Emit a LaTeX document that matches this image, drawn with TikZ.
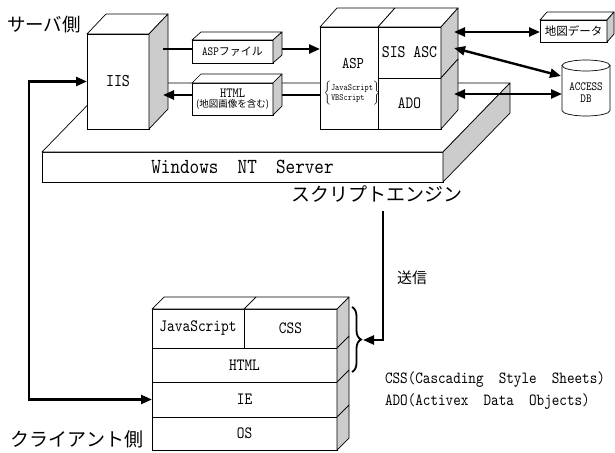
\documentclass[tikz,border=0pt]{standalone}
\usepackage{fontspec}
\newfontfamily\cjk{Noto Sans CJK JP}
\newfontfamily\hw[FakeStretch=0.85]{lmmono10-regular.otf}
\usetikzlibrary{arrows.meta,calc,decorations.pathreplacing}
\definecolor{sidegray}{gray}{0.8}
\newcommand\fs[1]{\fontsize{#1}{#1}\selectfont}
\newcommand\topface[3]{\draw[boxline,fill=white] (#1.north west) -- ($(#1.north west)+(#2,-#3)$) -- ($(#1.north east)+(#2,-#3)$) -- (#1.north east) -- cycle;}
\newcommand\sideface[3]{\draw[boxline,fill=sidegray] (#1.north east) -- ($(#1.north east)+(#2,-#3)$) -- ($(#1.south east)+(#2,-#3)$) -- (#1.south east) -- cycle;}
\tikzset{
  boxline/.style={line width=0.7pt, draw=black, line join=round},
  face/.style={draw, line width=0.7pt, fill=white, inner sep=0pt, outer sep=0pt, rectangle},
  txt/.style={inner sep=0pt, outer sep=0pt},
  bigarrow/.style={line width=2.4pt, line join=miter, -{Triangle[length=11pt,width=9pt]}},
  dblarrow/.style={line width=2.4pt, {Triangle[length=11pt,width=9pt]}-{Triangle[length=11pt,width=9pt]}}
}
\begin{document}
\begin{tikzpicture}[x=1pt,y=-1pt]
\useasboundingbox (0,0) rectangle (615,452);

% Windows NT Server platform
\node[face, minimum width=401, minimum height=30, font={\hw\fs{21.5}}] (nt) at (242.5,167) {Windows\ \ NT\ \ Server};
\topface{nt}{67}{69}
\sideface{nt}{67}{69}

% IIS
\node[face, minimum width=62, minimum height=95, font={\hw\fs{17.9}}] (iis) at (118,81.5) {IIS};
\topface{iis}{19}{20}
\sideface{iis}{19}{20}

% ASP block
\node[face, minimum width=58, minimum height=102] (asp) at (349,78) {};
\node[face, minimum width=63, minimum height=51, font={\hw\fs{17.7}}] (sis) at (409.5,52.5) {SIS ASC};
\node[face, minimum width=63, minimum height=51, font={\hw\fs{17.2}}] (ado) at (409.5,103.5) {ADO};
\topface{asp}{17}{19}
\topface{sis}{17}{19}
\sideface{sis}{17}{19}
\sideface{ado}{17}{19}
\node[txt, font={\hw\fs{16.4}}] (asplbl) at (353,63) {ASP};
\node[txt, font={\hw\fontsize{9.4}{10}\selectfont}] (aspscr) at (352,93) {$\left\{\begin{tabular}{@{}l@{}}JavaScript\\VBScript\end{tabular}\right\}$};

% IIS <-> ASP arrows
\coordinate (iisout) at (163,49);
\coordinate (iisin) at (163,95);
\draw[bigarrow] (iisout) -- (iisout -| asp.west);
\draw[bigarrow] (iisin -| asp.west) -- (iisin);

% small boxes on the arrows
\node[face, minimum width=81, minimum height=23] (aspfile) at (232.5,51.5) {{\hw\fs{12.5}ASP}{\cjk\fs{11}ファイル}};
\topface{aspfile}{9}{8}
\sideface{aspfile}{9}{8}
\node[face, minimum width=81, minimum height=32, align=center, font=\fs{10.5}] (htmlbox) at (232.5,99) {{\hw\fs{14}HTML}\\{\cjk\fs{9.5}(地図画像を含む)}};
\topface{htmlbox}{9}{9}
\sideface{htmlbox}{9}{9}

% map data box
\node[face, minimum width=67, minimum height=22, font={\cjk\fs{11.5}}] (map) at (573.5,31) {地図データ};
\topface{map}{7}{8}
\sideface{map}{7}{8}

% ACCESS DB cylinder
\node[txt, minimum width=48, minimum height=36] (db) at (586,92.5) {};
\coordinate (dbtop) at (586,65.5);
\coordinate (dbbot) at (586,110.5);
\draw[boxline, fill=white] (dbtop -| db.west) -- (dbbot -| db.west) arc[start angle=180, end angle=0, x radius=24, y radius=5.5] -- (dbtop -| db.east) -- cycle;
\draw[boxline, fill=white] (dbtop) ellipse[x radius=24, y radius=5.5];
\node[txt, align=center, font={\hw\fontsize{12.5}{11.5}\selectfont}] (dbtext) at (586,92.5) {ACCESS\\DB};

% data arrows
\coordinate (sisout) at (454,32);
\coordinate (sisout2) at (454,48);
\coordinate (dbin) at (561,76);
\coordinate (adoout) at (454,94);
\draw[dblarrow] (sisout) -- (sisout -| map.west);
\draw[dblarrow] (sisout2) -- (dbin);
\draw[dblarrow] (adoout) -- (adoout -| db.west);

% client stack
\node[face, minimum width=92, minimum height=39, font={\hw\fs{17.3}}] (js) at (198,328.5) {JavaScript};
\node[face, minimum width=93, minimum height=39, font={\hw\fs{17.2}}] (css) at (290.5,328.5) {CSS};
\node[face, minimum width=185, minimum height=34, font={\hw\fs{17.2}}] (html) at (244.5,365) {HTML};
\node[face, minimum width=185, minimum height=35, font={\hw\fs{17.2}}] (ie) at (244.5,399.5) {IE};
\node[face, minimum width=185, minimum height=33, font={\hw\fs{17.2}}] (os) at (244.5,433.5) {OS};
\topface{js}{12}{12}
\topface{css}{12}{12}
\sideface{css}{12}{12}
\sideface{html}{12}{12}
\sideface{ie}{12}{12}
\sideface{os}{12}{12}

% brace and send arrow
\draw[line width=1.8pt, decorate, decoration={brace, amplitude=9pt}] (352,307) -- (352,372);
\coordinate (sendtop) at (383,211);
\coordinate (bracetip) at (363,340);
\draw[bigarrow] (sendtop) -- (sendtop |- bracetip) -- (bracetip);

% left arrow IIS <-> IE
\coordinate (leftx) at (29,0);
\draw[line width=2.4pt, line join=miter, {Triangle[length=11pt,width=9pt]}-{Triangle[length=11pt,width=9pt]}] (iis.west) -- (iis.west -| leftx) -- (ie.west -| leftx) -- (ie.west);

% labels
\node[txt, font={\cjk\fs{18.5}}] (servside) at (44,25) {サーバ側};
\node[txt, font={\cjk\fs{19}}] (engine) at (376.5,194) {スクリプトエンジン};
\node[txt, font={\cjk\fs{15}}] (send) at (412,278) {送信};
\node[txt, font={\cjk\fs{19}}] (clientside) at (77,439) {クライアント側};
\node[txt, font={\hw\fs{17}}, anchor=west] (leg1) at (385,380) {CSS(Cascading\ \ Style\ \ Sheets)};
\node[txt, font={\hw\fs{17}}, anchor=west] (leg2) at (385,402) {ADO(Activex\ \ Data\ \ Objects)};
\end{tikzpicture}
\end{document}
